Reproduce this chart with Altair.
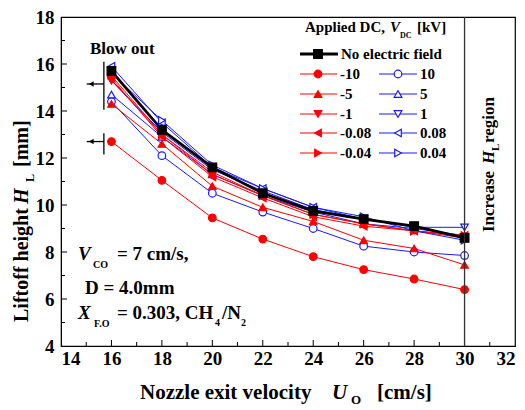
import altair as alt
import pandas as pd

# ---------------- data ----------------
velocity = [16, 18, 20, 22, 24, 26, 28, 30]

h_no_field = [15.7, 13.2, 11.6, 10.5, 9.75, 9.4, 9.1, 8.6]
h_m10 = [12.7, 11.05, 9.45, 8.55, 7.8, 7.25, 6.85, 6.4]
h_p10 = [14.4, 12.1, 10.5, 9.7, 9.0, 8.25, 8.0, 7.85]
h_m5 = [14.3, 12.6, 10.8, 9.9, 9.3, 8.5, 8.15, 7.45]
h_p5 = [14.7, 12.9, 11.3, 10.4, 9.7, 9.2, 9.0, 8.7]
h_m1 = [15.3, 13.0, 11.3, 10.4, 9.6, 9.2, 8.9, 8.6]
h_p1 = [15.3, 13.1, 11.5, 10.6, 9.8, 9.4, 9.05, 9.05]
h_m008 = [15.4, 12.9, 11.2, 10.3, 9.5, 9.1, 8.9, 8.7]
h_p008 = [15.9, 13.5, 11.6, 10.7, 9.9, 9.4, 9.1, 8.6]
h_m004 = [15.5, 13.0, 11.4, 10.4, 9.6, 9.2, 8.9, 8.7]
h_p004 = [15.6, 13.6, 11.7, 10.7, 9.9, 9.5, 8.9, 8.5]

series_names = ["No electric field", "-10", "10", "-5", "5", "-1", "1",
                "-0.08", "0.08", "-0.04", "0.04"]
series_values = [h_no_field, h_m10, h_p10, h_m5, h_p5, h_m1, h_p1,
                 h_m008, h_p008, h_m004, h_p004]

x_tick_labels = [14, 16, 18, 20, 22, 24, 26, 28, 30, 32]
y_tick_labels = [4, 6, 8, 10, 12, 14, 16, 18]
x_ticks_major = [16, 18, 20, 22, 24, 26, 28, 30]
x_ticks_minor = [15, 17, 19, 21, 23, 25, 27, 29, 31]
y_ticks_major = [6, 8, 10, 12, 14, 16]
y_ticks_minor = [5, 7, 9, 11, 13, 15, 17]

# ---------------- styles ----------------
RED = "#ff0000"
BLUE = "#1a1aff"
FONT = "Liberation Serif"
shape_of = {"10": "circle", "5": "triangle-up", "1": "triangle-down",
            "0.08": "triangle-left", "0.04": "triangle-right"}


def style(name):
    if name == "No electric field":
        return dict(stroke="black", fill="black", shape="square", sw=2.8, ms=75, order=2)
    mag = name.lstrip("-")
    if name.startswith("-"):
        return dict(stroke=RED, fill=RED, shape=shape_of[mag], sw=1.0, ms=58, order=1)
    return dict(stroke=BLUE, fill="white", shape=shape_of[mag], sw=1.0, ms=58, order=0)


rows = []
for name, vals in zip(series_names, series_values):
    st = style(name)
    for xv, yv in zip(velocity, vals):
        rows.append(dict(series=name, x=xv, y=yv, **st))
df = pd.DataFrame(rows)

xs = alt.Scale(domain=[14, 32], nice=False, zero=False)
ys = alt.Scale(domain=[4, 18], nice=False, zero=False)

xaxis = alt.Axis(values=x_tick_labels, title=None, ticks=False, tickSize=0,
                 labelPadding=3, grid=False, labelFont=FONT, labelFontWeight="bold",
                 labelFontSize=19, labelColor="black", domainColor="black", labelOverlap=False)
yaxis = alt.Axis(values=y_tick_labels, title=None, ticks=False, tickSize=0,
                 labelPadding=7, grid=False, labelFont=FONT, labelFontWeight="bold",
                 labelFontSize=19, labelColor="black", domainColor="black", labelOverlap=False)

base = alt.Chart(df)

lines_col = base.transform_filter("datum.order < 2").mark_line().encode(
    x=alt.X("x:Q", scale=xs, axis=xaxis),
    y=alt.Y("y:Q", scale=ys, axis=yaxis),
    detail="series:N",
    order="x:Q",
    stroke=alt.Stroke("stroke:N", scale=None),
    strokeWidth=alt.StrokeWidth("sw:Q", scale=None),
)
lines_blk = base.transform_filter("datum.order == 2").mark_line().encode(
    x=alt.X("x:Q", scale=xs),
    y=alt.Y("y:Q", scale=ys),
    detail="series:N",
    order="x:Q",
    stroke=alt.Stroke("stroke:N", scale=None),
    strokeWidth=alt.StrokeWidth("sw:Q", scale=None),
)


def pts(cond):
    return base.transform_filter(cond).mark_point(filled=True, strokeWidth=1.2, opacity=1).encode(
        x=alt.X("x:Q", scale=xs),
        y=alt.Y("y:Q", scale=ys),
        shape=alt.Shape("shape:N", scale=None),
        size=alt.Size("ms:Q", scale=None),
        fill=alt.Fill("fill:N", scale=None),
        stroke=alt.Stroke("stroke:N", scale=None),
    )


# inward ticks
H, W = 329, 454
xt_df = pd.DataFrame([dict(x=v, len=6) for v in x_ticks_major] + [dict(x=v, len=4) for v in x_ticks_minor])
yt_df = pd.DataFrame([dict(y=v, len=6) for v in y_ticks_major] + [dict(y=v, len=4) for v in y_ticks_minor])
xt_major = alt.Chart(xt_df).transform_filter("datum.len == 6").mark_rule(color="black").encode(
    x=alt.X("x:Q", scale=xs), y=alt.value(H), y2=alt.value(H - 6))
xt_minor = alt.Chart(xt_df).transform_filter("datum.len == 4").mark_rule(color="black").encode(
    x=alt.X("x:Q", scale=xs), y=alt.value(H), y2=alt.value(H - 4))
yt_major = alt.Chart(yt_df).transform_filter("datum.len == 6").mark_rule(color="black").encode(
    y=alt.Y("y:Q", scale=ys), x=alt.value(0), x2=alt.value(6))
yt_minor = alt.Chart(yt_df).transform_filter("datum.len == 4").mark_rule(color="black").encode(
    y=alt.Y("y:Q", scale=ys), x=alt.value(0), x2=alt.value(4))

# x = 30 boundary line
bound = alt.Chart(pd.DataFrame({"x": [30], "y": [4], "y2": [18]})).mark_rule(
    color="#333333", strokeWidth=1.3).encode(
    x=alt.X("x:Q", scale=xs), y=alt.Y("y:Q", scale=ys), y2="y2:Q")

# blow-out markers
bo_v = pd.DataFrame({"x": [15.7, 15.7], "y": [14.05, 12.15], "y2": [16.1, 13.05]})
bo_h = pd.DataFrame({"x": [15.02, 15.02], "x2": [15.7, 15.7], "y": [15.15, 12.7]})
bo_head = pd.DataFrame({"x": [15.2, 15.2], "y": [15.15, 12.7]})
blow_v = alt.Chart(bo_v).mark_rule(color="black", strokeWidth=1.3).encode(
    x=alt.X("x:Q", scale=xs), y=alt.Y("y:Q", scale=ys), y2="y2:Q")
blow_h = alt.Chart(bo_h).mark_rule(color="black", strokeWidth=1.3).encode(
    x=alt.X("x:Q", scale=xs), x2="x2:Q", y=alt.Y("y:Q", scale=ys))
blow_head = alt.Chart(bo_head).mark_point(shape="triangle-left", filled=True, color="black",
                                          size=30, opacity=1).encode(
    x=alt.X("x:Q", scale=xs), y=alt.Y("y:Q", scale=ys))


# ---------------- text helper (pixel coordinates) ----------------
def txt(items, size, italic=False, angle=0, align="left", baseline="alphabetic"):
    d = pd.DataFrame(items, columns=["t", "px", "py"])
    kw = dict(font=FONT, fontWeight="bold", fontSize=size, align=align, baseline=baseline,
              color="black", angle=angle)
    if italic:
        kw["fontStyle"] = "italic"
    return alt.Chart(d).mark_text(**kw).encode(
        x=alt.X("px:Q", scale=None),
        y=alt.Y("py:Q", scale=None),
        text="t:N")


texts = [
    txt([("Blow out", 29, 37)], 17),
    # condition annotations
    txt([("V", 17, 243), ("X", 17, 302)], 19, italic=True),
    txt([("= 7 cm/s,", 56, 243), ("D = 4.0mm", 24, 277), ("= 0.303, CH", 56, 302), ("/N", 161, 302)], 19),
    txt([("CO", 32, 251), ("F.O", 33, 310), ("4", 154, 309), ("2", 180, 309)], 10),
    # x title
    txt([("Nozzle exit velocity", 79, 382), ("[cm/s]", 316, 382)], 21),
    txt([("U", 271, 382)], 21, italic=True),
    txt([("O", 290, 387)], 13),
    # y title
    txt([("Liftoff height", -33, 305), ("[mm]", -33, 150)], 20, angle=270),
    txt([("H", -33, 187)], 20, angle=270, italic=True),
    txt([("L", -27, 165)], 12, angle=270),
    # increase region
    txt([("Increase", 433, 215), ("region", 433, 126)], 17, angle=270),
    txt([("H", 433, 147)], 17, angle=270, italic=True),
    txt([("L", 438, 134)], 11, angle=270),
    # legend title
    txt([("Applied DC,", 244, 15), ("[kV]", 356, 15)], 15),
    txt([("V", 329, 15)], 15, italic=True),
    txt([("DC", 339, 21)], 8),
]

# ---------------- legend ----------------
leg_rows_y = [37, 57, 77, 97, 116, 136]
leg_items = []
leg_items.append(dict(name=series_names[0], lx1=239, lx2=277, mx=257, tx=280, ly=leg_rows_y[0]))
neg_names = series_names[1::2]
pos_names = series_names[2::2]
for i, (nn, pn) in enumerate(zip(neg_names, pos_names)):
    y = leg_rows_y[i + 1]
    leg_items.append(dict(name=nn, lx1=239, lx2=276, mx=257, tx=279, ly=y))
    leg_items.append(dict(name=pn, lx1=318, lx2=356, mx=337, tx=359, ly=y))
leg = pd.DataFrame([dict(**it, **style(it["name"])) for it in leg_items])

leg_lines = alt.Chart(leg).mark_rule().encode(
    x=alt.X("lx1:Q", scale=None), x2="lx2:Q",
    y=alt.Y("ly:Q", scale=None),
    stroke=alt.Stroke("stroke:N", scale=None),
    strokeWidth=alt.StrokeWidth("sw:Q", scale=None))
leg_pts = alt.Chart(leg).mark_point(filled=True, strokeWidth=1.2, opacity=1).encode(
    x=alt.X("mx:Q", scale=None),
    y=alt.Y("ly:Q", scale=None),
    shape=alt.Shape("shape:N", scale=None),
    size=alt.Size("ms:Q", scale=None),
    fill=alt.Fill("fill:N", scale=None),
    stroke=alt.Stroke("stroke:N", scale=None))
leg_txt = alt.Chart(leg).mark_text(font=FONT, fontWeight="bold", fontSize=15, align="left",
                                   baseline="middle", color="black").encode(
    x=alt.X("tx:Q", scale=None),
    y=alt.Y("ly:Q", scale=None),
    text="name:N")

chart = alt.layer(
    lines_col, lines_blk,
    pts("datum.order == 0"), pts("datum.order == 1"), pts("datum.order == 2"),
    xt_major, xt_minor, yt_major, yt_minor, bound,
    blow_v, blow_h, blow_head,
    leg_lines, leg_pts, leg_txt,
    *texts,
).properties(
    width=W, height=H,
    autosize=alt.AutoSizeParams(type="none"),
    padding={"left": 53, "top": 9, "right": 2, "bottom": 62},
    background="white",
).configure_view(stroke="black", strokeWidth=1.2)

chart.save("out.html", embed_options={"renderer": "svg", "actions": False})
